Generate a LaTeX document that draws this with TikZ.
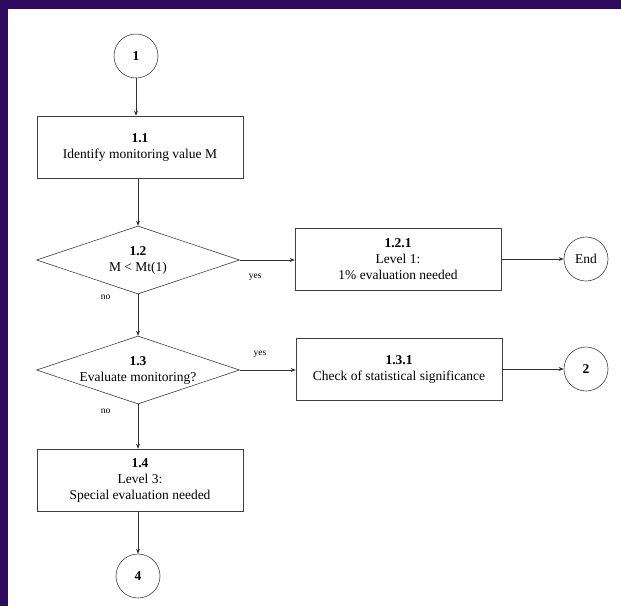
\documentclass[tikz,border=0pt]{standalone}
\usepackage{fontspec}
\setmainfont{Liberation Serif}
\usetikzlibrary{shapes.geometric,arrows.meta}
\definecolor{frame}{HTML}{2E0A5C}
\begin{document}
\begin{tikzpicture}[x=1pt,y=-1pt,
  every node/.style={font=\fontsize{13.5}{16}\selectfont},
  procbox/.style={draw=black!75,line width=0.6pt,minimum width=206pt,minimum height=62pt,align=center,inner sep=2pt},
  decision/.style={draw=black!75,line width=0.6pt,diamond,aspect=3,minimum width=203pt,minimum height=68pt,align=center,inner sep=0pt},
  conn/.style={draw=black!75,line width=0.6pt,circle,minimum size=44pt,inner sep=0pt},
  flow/.style={draw=black!80,line width=0.6pt,-{Stealth[length=5pt,width=4pt]}},
  lbl/.style={font=\fontsize{9.5}{11}\selectfont}]
\useasboundingbox (0,0) rectangle (621,606);
\fill[white] (0,0) rectangle (621,606);
\fill[frame] (0,0) rectangle (8,606);
\fill[frame] (0,0) rectangle (621,9);
\node[conn] (c1) at (136,56) {\textbf{1}};
\node[procbox] (b11) at (140,147) {\textbf{1.1}\\Identify monitoring value M};
\node[decision] (d12) at (138,260) {\textbf{1.2}\\M < Mt(1)};
\node[procbox] (b121) at (398,259) {\textbf{1.2.1}\\Level 1:\\1\% evaluation needed};
\node[conn] (cend) at (586,259) {End};
\node[decision] (d13) at (138,370) {\textbf{1.3}\\Evaluate monitoring?};
\node[procbox] (b131) at (399,369) {\textbf{1.3.1}\\Check of statistical significance};
\node[conn] (c2) at (586,369) {\textbf{2}};
\node[procbox] (b14) at (140,480) {\textbf{1.4}\\Level 3:\\Special evaluation needed};
\node[conn] (c4) at (138,576) {\textbf{4}};
\draw[flow] (c1) -- (c1 |- b11.north);
\draw[flow] (b11.south -| d12.north) -- (d12.north);
\draw[flow] (d12.east) -- (d12.east -| b121.west) node[lbl,pos=0.28,below=10pt] {yes};
\draw[flow] (d12.south) -- (d13.north) node[lbl,pos=0.08,left=24pt] {no};
\draw[flow] (b121) -- (cend);
\draw[flow] (d13.east) -- (d13.east -| b131.west) node[lbl,pos=0.36,above=9pt] {yes};
\draw[flow] (b131) -- (c2);
\draw[flow] (d13.south) -- (d13.south |- b14.north) node[lbl,pos=0.15,left=24pt] {no};
\draw[flow] (b14.south -| c4.north) -- (c4.north);
\end{tikzpicture}
\end{document}
